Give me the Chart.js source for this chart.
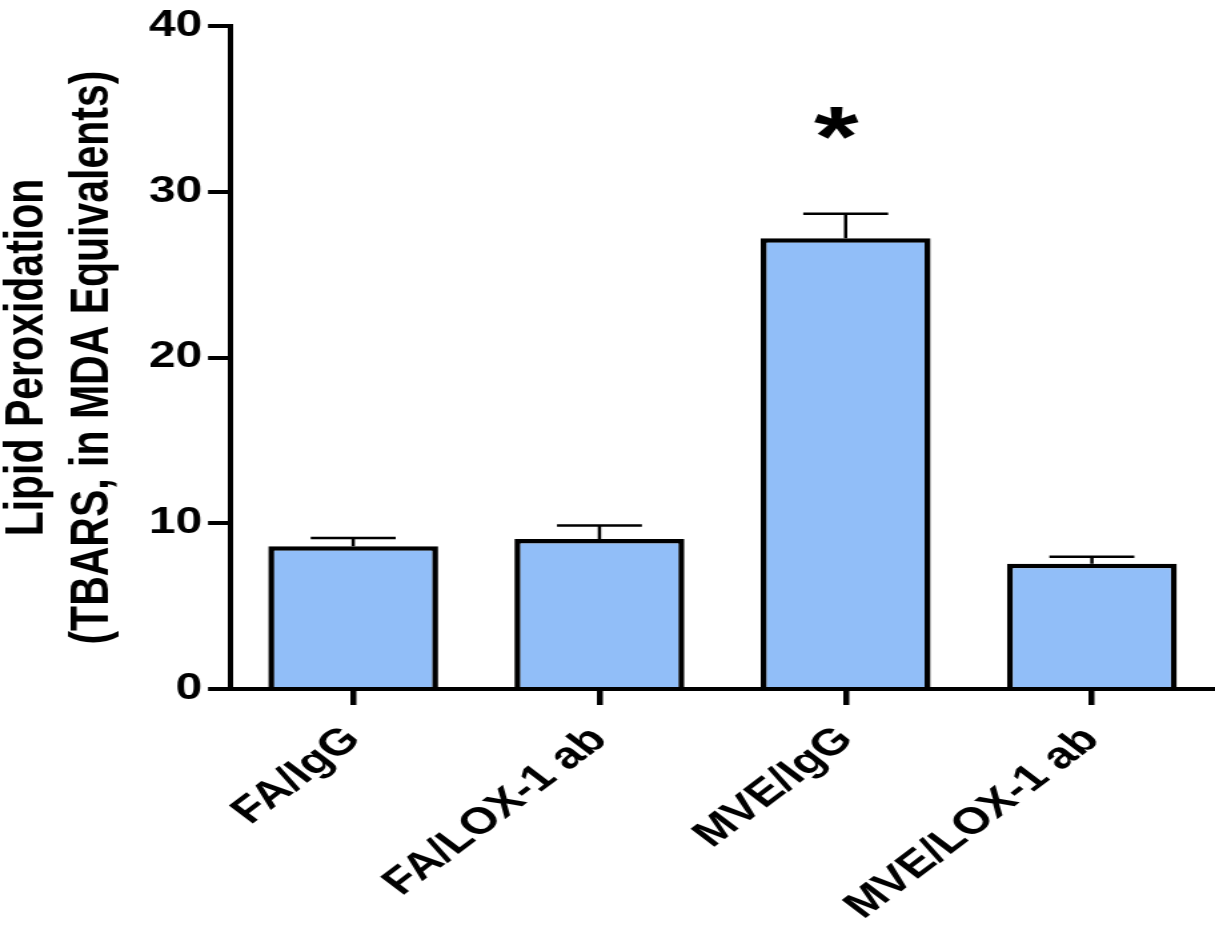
<!DOCTYPE html>
<html>
<head>
<meta charset="utf-8">
<script src="https://cdn.jsdelivr.net/npm/chart.js@4/dist/chart.umd.min.js"></script>
<style>
  html, body { margin: 0; padding: 0; background: #fff; }
</style>
</head>
<body>
<!-- drawn narrow, shown stretched: the figure is wider than its fonts -->
<canvas id="lipidChart" width="912" height="925" style="display:block;width:1215px;height:925px"></canvas>
<script>
// groups on the x axis
const groups = ["FA/IgG", "FA/LOX-1 ab", "MVE/IgG", "MVE/LOX-1 ab"];
// mean TBARS (MDA equivalents)
const meanTbars = [8.62, 9.05, 27.2, 7.56];
// SEM, drawn upward only
const semTbars = [0.49, 0.81, 1.47, 0.42];
// significance marks above the error bars
const sigMarks = ["", "", "*", ""];
const yTicks = [0, 10, 20, 30, 40];

Chart.defaults.font.family = "'Liberation Sans', Arial, sans-serif";
Chart.defaults.font.weight = "bold";
Chart.defaults.color = "#000";

//error bars + the asterisk, placed with the chart's own y scale
const errorBars = {
  id: "errorBars",
  afterDatasetsDraw(chart) {
    const ctx = chart.ctx;
    const y = chart.scales.y;
    const meta = chart.getDatasetMeta(0);
    ctx.save();
    ctx.strokeStyle = "#000";
    ctx.fillStyle = "#000";
    ctx.lineWidth = 2.5;
    meta.data.forEach((bar, i) => {
      const top = y.getPixelForValue(meanTbars[i] + semTbars[i]);
      const half = bar.width * 0.25;
      ctx.beginPath();
      ctx.moveTo(bar.x, bar.y);
      ctx.lineTo(bar.x, top);
      ctx.moveTo(bar.x - half, top);
      ctx.lineTo(bar.x + half, top);
      ctx.stroke();
      if (sigMarks[i]) {
        ctx.font = "bold 86px 'Liberation Sans', Arial, sans-serif";
        ctx.textAlign = "center";
        ctx.textBaseline = "alphabetic";
        ctx.fillText(sigMarks[i], bar.x - 7, top - 48);
      }
    });
    ctx.restore();
  },
};

const config = {
  type: "bar",
  data: {
    labels: groups,
    datasets: [
      {
        data: meanTbars,
        backgroundColor: "#91bef8",
        borderColor: "#000",
        borderWidth: 4.5,
        borderSkipped: "bottom",
        barPercentage: 0.69,
        categoryPercentage: 1,
      },
    ],
  },
  options: {
    responsive: false,
    animation: false,
    layout: { padding: { top: 20.5, left: 0, right: 0, bottom: 0 } },
    plugins: { legend: { display: false }, tooltip: { enabled: false } },
    scales: {
      x: {
        z: 1,
        offset: true,
        grid: {
          display: true,
          offset: false,
          drawOnChartArea: false,
          drawTicks: true,
          tickLength: 16,
          lineWidth: 4.5,
          color: "#000",
        },
        border: { display: true, width: 4, color: "#000" },
        ticks: {
          minRotation: 45,
          maxRotation: 45,
          padding: 13,
          font: { size: 37, weight: "bold" },
        },
        afterFit: (scale) => {
          scale.height = 236;
        },
      },
      y: {
        z: 1,
        min: 0,
        max: 40,
        afterBuildTicks: (scale) => {
          scale.ticks = yTicks.map((v) => ({ value: v }));
        },
        grid: {
          display: true,
          drawOnChartArea: false,
          drawTicks: true,
          tickLength: 16.5,
          lineWidth: 4,
          color: "#000",
        },
        border: { display: true, width: 4, color: "#000" },
        ticks: {
          padding: 4.5,
          font: { size: 36, weight: "bold" },
        },
        title: {
          display: true,
          text: ["Lipid Peroxidation", "(TBARS, in MDA Equivalents)"],
          font: { size: 41, weight: "bold" },
          padding: { top: -4, bottom: 0 },
        },
        afterFit: (scale) => {
          scale.width = 172.7;
        },
      },
    },
  },
  plugins: [errorBars],
};

let lipidChart = new Chart(document.getElementById("lipidChart"), config);
</script>
</body>
</html>
